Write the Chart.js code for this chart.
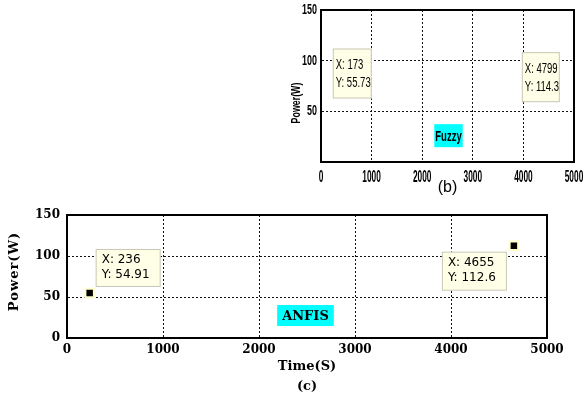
<!DOCTYPE html>
<html>
<head>
<title>Power vs Time</title>
<script src="https://cdn.jsdelivr.net/npm/chart.js"></script>
<style>
    body { margin: 0; background: #fff; }
    #wrap { position: relative; width: 583px; height: 396px; overflow: hidden; }
    #fuzzyChart { position: absolute; left: 290px; top: 0; }
    #anfisChart { position: absolute; left: 0; top: 200px; }
</style>
</head>
<body>
<div id="wrap">
    <canvas id="fuzzyChart" width="293" height="200"></canvas>
    <canvas id="anfisChart" width="583" height="196"></canvas>
</div>
<script>
    var xTicks = [0, 1000, 2000, 3000, 4000, 5000];
    var yTicks = [0, 50, 100, 150];
    var fuzzyTime = [173, 4799];
    var fuzzyPower = [55.73, 114.3];
    var anfisTime = [236, 4655];
    var anfisPower = [54.91, 112.6];

    var sans = "'Liberation Sans', Arial, sans-serif";
    var serif = "'DejaVu Serif', serif";

    function points(xs, ys) {
        return xs.map(function (x, i) { return { x: x, y: ys[i] }; });
    }

    // text squeezed sideways, the top panel is a tall narrow face
    function squeezeText(ctx, text, x, y, sx) {
        ctx.save();
        ctx.translate(x, y);
        ctx.scale(sx, 1);
        ctx.fillText(text, 0, 0);
        ctx.restore();
    }

    // frame, y title, tick labels (top panel), coloured label and datatips
    var panelPlugin = {
        id: 'panel',
        afterDatasetsDraw: function (chart, args, opts) {
            var ctx = chart.ctx, a = chart.chartArea;
            var xs = chart.scales.x, ys = chart.scales.y;
            var sx = opts.squeeze;
            ctx.save();
            ctx.setLineDash([]);
            ctx.strokeStyle = '#000';
            ctx.lineWidth = 2;
            ctx.strokeRect(a.left, a.top, a.right - a.left, a.bottom - a.top);
            ctx.fillStyle = '#000';

            // y axis title
            var yt = opts.yTitle;
            ctx.save();
            ctx.translate(yt.x, (a.top + a.bottom) / 2 + yt.dy);
            ctx.rotate(-Math.PI / 2);
            ctx.font = yt.font;
            ctx.letterSpacing = yt.spacing || '0px';
            ctx.textAlign = 'center';
            ctx.textBaseline = 'middle';
            squeezeText(ctx, yt.text, 0, 0, sx);
            ctx.restore();

            var tk = opts.tickText;
            if (tk) {
                ctx.textBaseline = 'middle';
                ctx.font = tk.xFont;
                ctx.textAlign = 'center';
                xs.ticks.forEach(function (t) {
                    squeezeText(ctx, String(t.value), xs.getPixelForValue(t.value), a.bottom + tk.xDy, tk.xSx);
                });
                ctx.font = tk.yFont;
                ctx.textAlign = 'right';
                ys.ticks.forEach(function (t) {
                    if (t.value === 0) return;
                    squeezeText(ctx, String(t.value), a.left - tk.yPad, ys.getPixelForValue(t.value), tk.ySx);
                });
            }

            var lb = opts.label;
            ctx.font = lb.font;
            var tw = ctx.measureText(lb.text).width * sx;
            var lx = xs.getPixelForValue(lb.x), ly = ys.getPixelForValue(lb.y);
            ctx.fillStyle = '#00ffff';
            ctx.fillRect(lx - tw / 2 - lb.padX, ly - lb.h / 2, tw + 2 * lb.padX, lb.h);
            ctx.fillStyle = '#000';
            ctx.textAlign = 'center';
            ctx.textBaseline = 'middle';
            squeezeText(ctx, lb.text, lx, ly + 1, sx);

            var pts = chart.data.datasets[0].data;
            ctx.textAlign = 'left';
            ctx.font = opts.tipFont;
            opts.tips.forEach(function (t, i) {
                var p = pts[i];
                var px = xs.getPixelForValue(p.x), py = ys.getPixelForValue(p.y);
                var bx = t.dx < 0 ? px + t.dx - t.w : px + t.dx;
                var by = t.dy < 0 ? py + t.dy - t.h : py + t.dy;
                ctx.fillStyle = '#ffffe8';
                ctx.fillRect(bx, by, t.w, t.h);
                ctx.strokeStyle = '#c8c8b8';
                ctx.lineWidth = 1;
                ctx.strokeRect(bx + 0.5, by + 0.5, t.w - 1, t.h - 1);
                ctx.fillStyle = '#000';
                squeezeText(ctx, 'X: ' + p.x, bx + opts.tipPad, by + opts.lineTop, sx);
                squeezeText(ctx, 'Y: ' + p.y, bx + opts.tipPad, by + opts.lineTop + opts.lineGap, sx);
            });
            ctx.restore();
        }
    };

    function fixAxis(size, isY) {
        return function (scale) {
            if (isY) scale.width = size; else scale.height = size;
            scale.paddingLeft = 0; scale.paddingRight = 0;
            scale.paddingTop = 0; scale.paddingBottom = 0;
        };
    }

    function setTicks(list) {
        return function (scale) {
            scale.ticks = list.map(function (v) { return { value: v }; });
        };
    }

    function plain(v) { return String(v); }

    var gridOpts = { color: '#111', lineWidth: 1, drawTicks: false };
    var borderOpts = { color: '#000', width: 2, dash: [2, 2] };

    new Chart(document.getElementById('fuzzyChart'), {
        type: 'scatter',
        data: {
            datasets: [{
                data: points(fuzzyTime, fuzzyPower),
                pointRadius: 0,
                backgroundColor: '#000'
            }]
        },
        options: {
            responsive: false,
            animation: false,
            layout: { padding: { top: 10, right: 9, left: 0, bottom: 0 } },
            plugins: {
                legend: { display: false },
                tooltip: { enabled: false },
                panel: {
                    squeeze: 0.68,
                    yTitle: { text: 'Power(W)', x: 6, dy: 17, font: 'bold 13px ' + sans },
                    tickText: { xFont: 'bold 16px ' + sans, xSx: 0.52, xDy: 16,
                                yFont: 'bold 14px ' + sans, ySx: 0.64, yPad: 4 },
                    label: { text: 'Fuzzy', x: 2520, y: 26, font: 'bold 14px ' + sans, padX: 1, h: 23 },
                    tipFont: '14px ' + sans,
                    tipPad: 3, lineTop: 17, lineGap: 18,
                    tips: [
                        { dx: 3, dy: -7, w: 39, h: 50 },
                        { dx: -4, dy: 6, w: 38, h: 50 }
                    ]
                }
            },
            scales: {
                x: {
                    type: 'linear',
                    min: xTicks[0], max: xTicks[xTicks.length - 1],
                    afterBuildTicks: setTicks(xTicks),
                    afterFit: fixAxis(38, false),
                    grid: gridOpts, border: borderOpts,
                    ticks: { display: false },
                    title: { display: true, text: '(b)', color: '#000', padding: { top: 0, bottom: 2 },
                             font: { family: sans, size: 16, lineHeight: '20px' } }
                },
                y: {
                    min: yTicks[0], max: yTicks[yTicks.length - 1],
                    afterBuildTicks: setTicks(yTicks),
                    afterFit: fixAxis(31, true),
                    grid: gridOpts, border: borderOpts,
                    ticks: { display: false }
                }
            }
        },
        plugins: [panelPlugin]
    });

    new Chart(document.getElementById('anfisChart'), {
        type: 'scatter',
        data: {
            datasets: [{
                data: points(anfisTime, anfisPower),
                pointStyle: 'rect',
                pointRadius: 6,
                backgroundColor: '#000',
                borderColor: '#ffffcc',
                borderWidth: 2
            }]
        },
        options: {
            responsive: false,
            animation: false,
            layout: { padding: { top: 15, right: 36, left: 0, bottom: 0 } },
            plugins: {
                legend: { display: false },
                tooltip: { enabled: false },
                panel: {
                    squeeze: 1,
                    yTitle: { text: 'Power(W)', x: 15, dy: -5, font: 'bold 13px ' + serif, spacing: '1px' },
                    label: { text: 'ANFIS', x: 2484, y: 27.4, font: 'bold 13px ' + serif, padX: 5, h: 21 },
                    tipFont: "12px 'DejaVu Sans', sans-serif",
                    tipPad: 6, lineTop: 11, lineGap: 15,
                    tips: [
                        { dx: 6, dy: -6, w: 65, h: 38 },
                        { dx: -7, dy: 6, w: 65, h: 39 }
                    ]
                }
            },
            scales: {
                x: {
                    type: 'linear',
                    min: xTicks[0], max: xTicks[xTicks.length - 1],
                    afterBuildTicks: setTicks(xTicks),
                    afterFit: fixAxis(58, false),
                    grid: gridOpts, border: borderOpts,
                    ticks: { color: '#000', padding: 5, maxRotation: 0, callback: plain,
                             font: { family: serif, size: 12, weight: 'bold' } },
                    title: { display: true, text: ['Time(S)', '(c)'], color: '#000', padding: { top: 0, bottom: -1 },
                             font: { family: serif, size: 13, weight: 'bold', lineHeight: '20px' } }
                },
                y: {
                    min: yTicks[0], max: yTicks[yTicks.length - 1],
                    afterBuildTicks: setTicks(yTicks),
                    afterFit: fixAxis(67, true),
                    grid: gridOpts, border: borderOpts,
                    ticks: { color: '#000', padding: 7, callback: plain,
                             font: { family: serif, size: 12, weight: 'bold' } }
                }
            }
        },
        plugins: [panelPlugin]
    });
</script>
</body>
</html>
